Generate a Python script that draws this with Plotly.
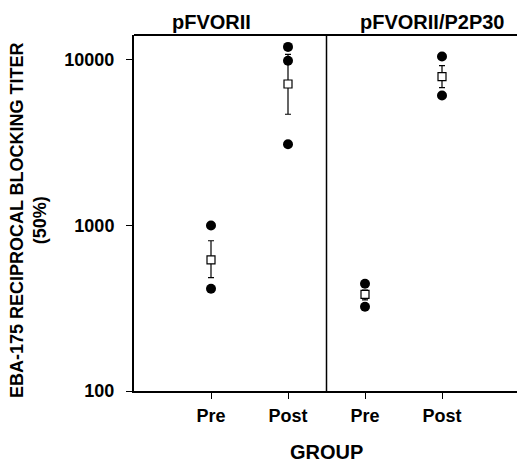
import plotly.graph_objects as go

# ---- data ----
tick_labels = ["Pre", "Post", "Pre", "Post"]
tick_pos = [1, 2, 3, 4]
panel_titles = ["pFVORII", "pFVORII/P2P30"]
y_tick_vals = [100, 1000, 10000]
y_tick_text = ["100", "1000", "10000"]

pf_pre = [1000, 415]
pf_post = [12000, 9900, 3100]
p2_pre = [445, 323]
p2_post = [10500, 6100]

means = [620, 7160, 384, 7930]
err_plus = [189, 3660, 23, 1310]
err_minus = [136, 2460, 29, 1120]

FONT = "Arial, Liberation Sans, sans-serif"

fig = go.Figure()

indiv = [pf_pre, pf_post, p2_pre, p2_post]
xs, ys = [], []
for pos, vals in zip(tick_pos, indiv):
    xs += [pos] * len(vals)
    ys += vals

fig.add_trace(go.Scatter(
    x=xs, y=ys, mode="markers",
    marker=dict(symbol="circle", size=10, color="black", line=dict(width=0)),
    showlegend=False, hoverinfo="skip"))

fig.add_trace(go.Scatter(
    x=tick_pos, y=means, mode="markers",
    marker=dict(symbol="square", size=8, color="white", line=dict(width=1.2, color="black")),
    error_y=dict(type="data", symmetric=False, array=err_plus, arrayminus=err_minus,
                 color="black", thickness=1.2, width=3),
    showlegend=False, hoverinfo="skip"))

fig.update_layout(
    width=517, height=464,
    margin=dict(l=134, r=0, t=35, b=73),
    paper_bgcolor="white", plot_bgcolor="white",
    font=dict(family=FONT, color="black"),
    xaxis=dict(range=[0, 383 / 77], tickvals=tick_pos, ticktext=tick_labels,
               showgrid=False, zeroline=False, showline=True, linecolor="black", linewidth=2,
               ticks="outside", ticklen=6, tickcolor="black", tickwidth=1.2,
               ticklabelstandoff=1,
               tickfont=dict(family=FONT, size=18, weight="bold")),
    yaxis=dict(type="log", range=[2, 4.151], tickvals=y_tick_vals,
               ticktext=y_tick_text,
               showgrid=False, zeroline=False, showline=True, linecolor="black", linewidth=2,
               ticks="outside", ticklen=6, tickcolor="black", tickwidth=1.2,
               ticklabelstandoff=8,
               tickfont=dict(family=FONT, size=18, weight="bold")),
    shapes=[
        dict(type="line", xref="paper", yref="paper", x0=0, x1=1, y0=1, y1=1,
             line=dict(color="black", width=2)),
        dict(type="line", xref="x", yref="paper", x0=2.5, x1=2.5, y0=0, y1=1,
             line=dict(color="black", width=1.5)),
    ],
    annotations=[
        dict(text=panel_titles[0], xref="x", yref="paper", x=1.0, y=1, yanchor="middle",
             yshift=13, showarrow=False, font=dict(family=FONT, size=20, weight="bold")),
        dict(text=panel_titles[1], xref="x", yref="paper", x=3.88, y=1, yanchor="middle",
             yshift=13, showarrow=False, font=dict(family=FONT, size=20, weight="bold")),
        dict(text="EBA-175 RECIPROCAL BLOCKING TITER<br>(50%)", xref="paper", yref="paper",
             x=0, y=0.48, xanchor="center", yanchor="middle", xshift=-106, textangle=-90,
             showarrow=False, font=dict(family=FONT, size=18, weight="bold")),
        dict(text="GROUP", xref="x", yref="paper", x=2.5, y=0, xanchor="center",
             yanchor="middle", yshift=-61, showarrow=False,
             font=dict(family=FONT, size=20, weight="bold")),
    ],
)

fig.write_html("out.html", config={"displayModeBar": False},
               post_script="document.body.style.margin='0px';")
